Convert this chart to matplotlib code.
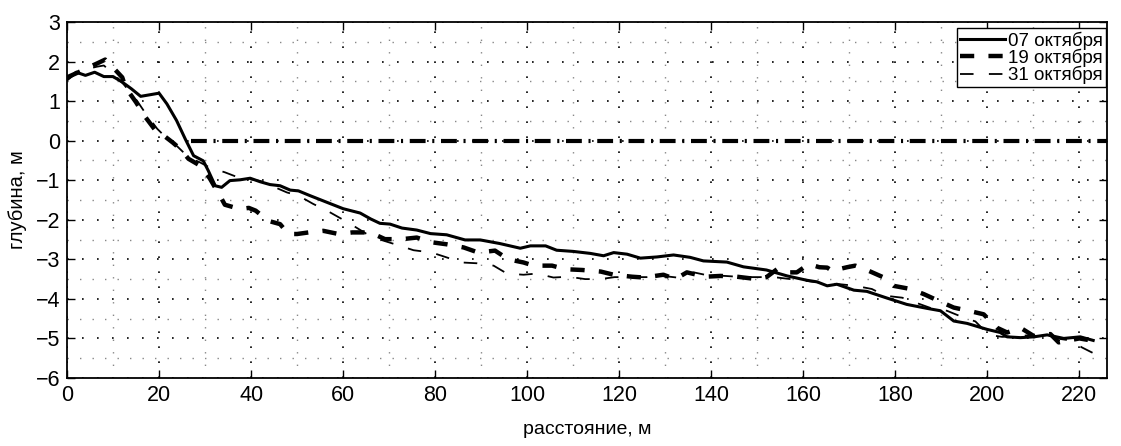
import matplotlib
matplotlib.use("Agg")
import matplotlib.pyplot as plt
from matplotlib.ticker import MultipleLocator

plt.rcParams['font.family'] = ['Liberation Sans', 'DejaVu Sans']

# 07 октября (solid)
x07 = [0, 2, 4, 6, 8, 10, 12, 14, 16, 20, 21.7, 23.8, 25.7, 27.5, 29.6, 30.7, 32.2, 33.6, 35.4,
       37.6, 39.8, 42, 44.1, 46.3, 48.5, 50.3, 52.8, 56.5, 60, 63.7, 66, 68, 70.2, 72.8, 76, 79,
       82.5, 86.5, 89.8, 94, 98.5, 100.7, 104, 106.4, 110, 113.7, 116.6, 118.8, 121.7, 124.6,
       128.2, 131.8, 135.4, 138.3, 143.4, 147, 152, 156.5, 160.8, 163, 165.2, 167.3, 171, 173.8,
       178.2, 182.5, 186.9, 189.8, 192.7, 195.6, 199.9, 202.8, 204.3, 207.2, 210.1, 213, 216.6,
       220.2, 223]
y07 = [1.54, 1.73, 1.65, 1.73, 1.62, 1.62, 1.48, 1.31, 1.12, 1.2, 0.93, 0.51, 0.04, -0.38, -0.51,
       -0.76, -1.14, -1.18, -1.01, -0.99, -0.95, -1.04, -1.11, -1.14, -1.25, -1.27, -1.39, -1.56,
       -1.72, -1.83, -1.98, -2.09, -2.11, -2.21, -2.26, -2.35, -2.38, -2.51, -2.51, -2.6, -2.72,
       -2.66, -2.66, -2.77, -2.8, -2.85, -2.91, -2.83, -2.87, -2.97, -2.94, -2.89, -2.95, -3.04,
       -3.07, -3.19, -3.27, -3.42, -3.53, -3.57, -3.67, -3.63, -3.78, -3.81, -3.98, -4.14, -4.24,
       -4.3, -4.56, -4.62, -4.77, -4.85, -4.96, -4.98, -4.96, -4.91, -5.0, -4.96, -5.05]

# 19 октября (thick dashed)
x19 = [0, 2.5, 5, 6.5, 8.3, 10, 12, 12.7, 15, 17, 19.6, 21, 23, 24.6, 26.4, 28.9, 31, 32.5, 33.5,
       34.3, 37.6, 39.5, 41, 43.8, 46.3, 48.1, 50, 52.5, 55.7, 59, 62, 65.9, 69.1, 72.8, 76, 79.3,
       82.5, 86.2, 89.4, 93, 95.9, 99.2, 101.4, 105.4, 108.3, 112, 116, 118.8, 122.8, 125.3,
       129.6, 132.2, 134.7, 138.7, 142, 145.6, 149.9, 152, 154.3, 155.4, 158.6, 161.2, 163.5,
       165.2, 166.5, 167.7, 169.5, 171.3, 174.2, 177.5, 179.6, 183.3, 186.2, 189.4, 192.7, 195.9,
       199.2, 202.1, 204.3, 207.2, 210.1, 213.7, 215.5, 217.3, 220, 222.5]
y19 = [1.6, 1.73, 1.87, 1.95, 2.05, 1.85, 1.6, 1.35, 0.97, 0.6, 0.2, 0.13, -0.05, -0.21, -0.46,
       -0.63, -0.95, -1.25, -1.45, -1.62, -1.73, -1.7, -1.77, -2.03, -2.11, -2.36, -2.36, -2.32,
       -2.28, -2.36, -2.32, -2.32, -2.49, -2.49, -2.45, -2.57, -2.62, -2.7, -2.83, -2.78, -3.0,
       -3.08, -3.16, -3.16, -3.25, -3.27, -3.31, -3.39, -3.44, -3.46, -3.39, -3.5, -3.33, -3.44,
       -3.42, -3.44, -3.5, -3.45, -3.25, -3.33, -3.33, -3.12, -3.2, -3.21, -3.31, -3.25, -3.2,
       -3.16, -3.29, -3.46, -3.67, -3.75, -3.88, -4.05, -4.22, -4.3, -4.39, -4.73, -4.85, -4.73,
       -4.94, -4.89, -5.1, -5.06, -5.0, -5.05]

# 31 октября (thin dashed)
x31 = [0, 2, 4, 6.5, 8, 10, 12.2, 15.2, 17, 19.6, 21.5, 24, 26.4, 28.9, 31, 34.3, 37.2, 40, 42,
       44, 47.8, 50.3, 53.5, 56.5, 59.7, 62.2, 65, 68, 72.4, 75.3, 79.3, 82.2, 85.8, 89.1, 92.7,
       95.6, 99.2, 102.1, 105.7, 109, 112.6, 115.9, 119, 122.8, 126, 129.5, 132.5, 136.2, 139,
       143, 147, 151, 154.3, 157.2, 161, 164.5, 168, 171.3, 174.9, 177.8, 181.5, 184.3, 187.9,
       191.2, 194.8, 197.4, 200.3, 203.2, 206, 209, 212, 215, 218, 220.6, 223.5]
y31 = [1.55, 1.7, 1.8, 1.87, 1.9, 1.7, 1.44, 1.01, 0.7, 0.3, 0.08, -0.15, -0.42, -0.55, -0.68,
       -0.8, -0.93, -0.98, -1.02, -1.12, -1.31, -1.39, -1.6, -1.77, -1.98, -2.15, -2.35, -2.5,
       -2.66, -2.77, -2.83, -2.94, -3.08, -3.1, -3.16, -3.36, -3.39, -3.36, -3.46, -3.44, -3.5,
       -3.5, -3.45, -3.45, -3.45, -3.42, -3.46, -3.33, -3.4, -3.42, -3.45, -3.45, -3.46, -3.5,
       -3.55, -3.6, -3.63, -3.67, -3.75, -3.92, -3.97, -4.09, -4.24, -4.3, -4.47, -4.57, -4.91,
       -4.96, -4.95, -4.92, -4.95, -5.0, -5.05, -5.23, -5.4]

# zero level (dash-dot)
x_zero = [27, 226]
y_zero = [0, 0]

labels = ["07 октября", "19 октября", "31 октября"]
xticks = list(range(0, 221, 20))
yticks = list(range(-6, 4))

fig = plt.figure(figsize=(11.21, 4.46), dpi=100)
ax = fig.add_axes([0.0598, 0.1525, 0.9277, 0.7982])

ax.set_xlim(0, 226)
ax.set_ylim(-6, 3)
ax.set_xticks(xticks)
ax.set_yticks(yticks)
ax.xaxis.set_minor_locator(MultipleLocator(10))
ax.yaxis.set_minor_locator(MultipleLocator(0.5))

ax.grid(True, which='major', color='black', linestyle=(0, (1, 8)), linewidth=1.2)
ax.grid(True, which='minor', color='#888888', linestyle=(0, (1, 8)), linewidth=1.0)
ax.set_axisbelow(True)

ax.plot(x_zero, y_zero, color='black', linewidth=3, linestyle=(0, (3.8, 1.6, 0.5, 1.6)))
l1, = ax.plot(x07, y07, color='black', linewidth=2.2, linestyle='-', label=labels[0])
l2, = ax.plot(x19, y19, color='black', linewidth=3.2, linestyle=(0, (3.2, 3.2)), label=labels[1])
l3, = ax.plot(x31, y31, color='black', linewidth=1.3, linestyle=(0, (7.5, 8.5)), label=labels[2])

ax.tick_params(which='major', direction='in', length=6, width=1, top=True, right=True,
               labelsize=15.5, pad=5)
ax.tick_params(which='minor', length=0, top=True, right=True)
for s in ax.spines.values():
    s.set_linewidth(1.3)

ax.set_xlabel("расстояние, м", fontsize=14, labelpad=11)
ax.set_ylabel("глубина, м", fontsize=14.5, labelpad=6)

leg = ax.legend(handles=[l1, l2, l3], loc='upper right', bbox_to_anchor=(0.999, 0.982),
                fontsize=13.5, frameon=True, fancybox=False, edgecolor='black', framealpha=1,
                handlelength=2.4, handletextpad=0.2, labelspacing=-0.05, borderpad=0.15,
                borderaxespad=0.0)
leg.get_frame().set_linewidth(1.0)

fig.savefig("out.png", dpi=100)
